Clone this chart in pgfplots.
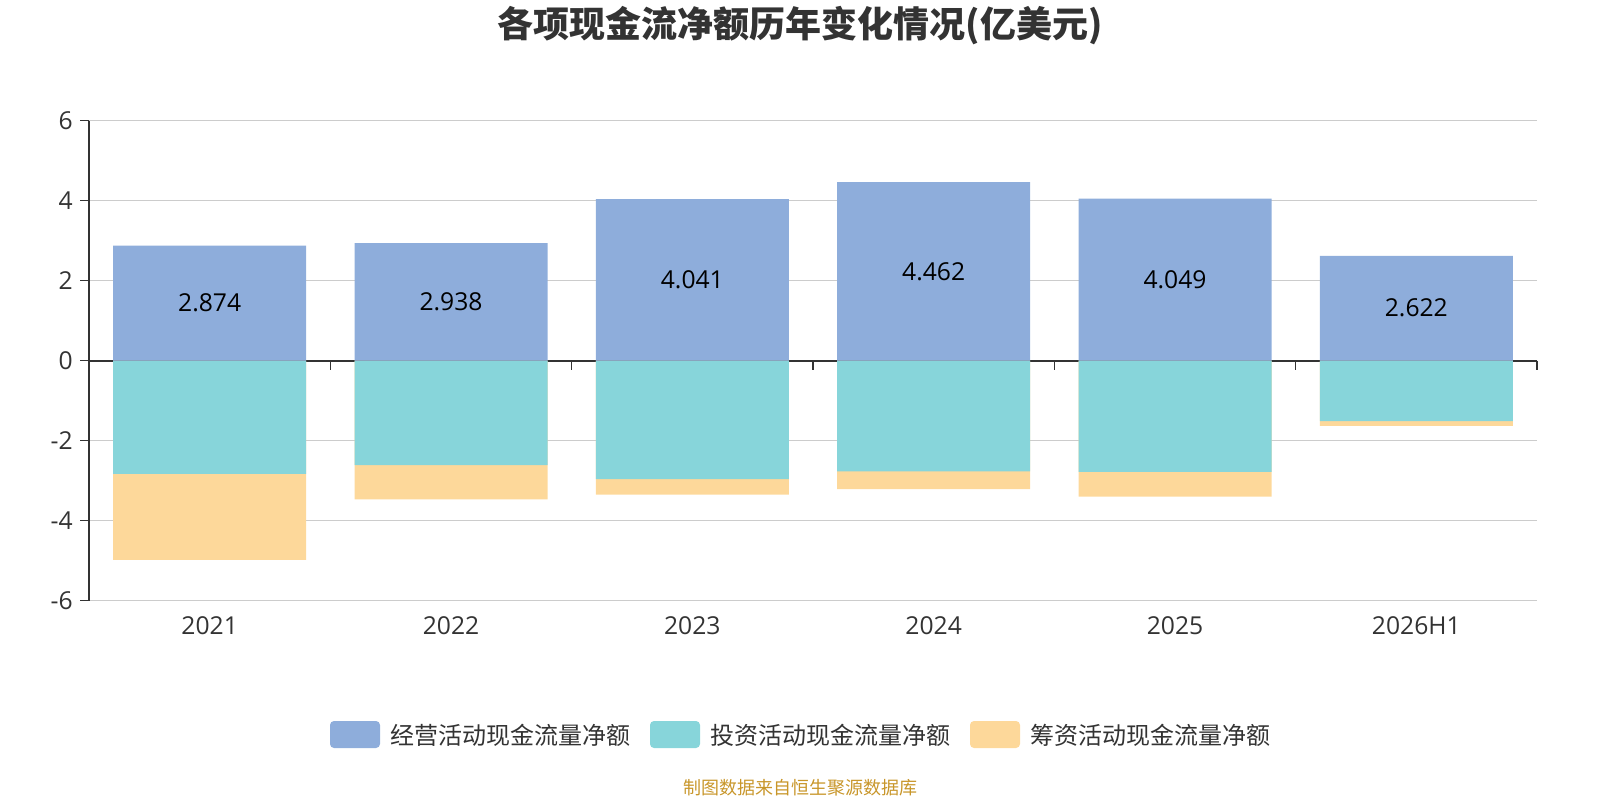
\documentclass[border=0pt]{standalone}
\usepackage{pgfplots}
\pgfplotsset{compat=1.18}
\usepackage{pgfplotstable}
\usepackage{fontspec}
\setmainfont{Open Sans}
\newfontfamily\cjk{Noto Sans CJK SC}
\definecolor{cop}{HTML}{8EADDB}
\definecolor{cinv}{HTML}{87D5DA}
\definecolor{cfin}{HTML}{FDD89A}
\definecolor{ctxt}{HTML}{333333}
\definecolor{cgrid}{HTML}{CCCCCC}
\definecolor{cfoot}{HTML}{C8962A}
\def\px{0.75pt}

\pgfplotstableread{
x op inv fin
0 2.874 -2.83 -2.15
1 2.938 -2.61 -0.86
2 4.041 -2.96 -0.39
3 4.462 -2.77 -0.44
4 4.049 -2.78 -0.62
5 2.622 -1.51 -0.12
}\cf

\begin{document}
\begin{tikzpicture}
\useasboundingbox (0,0) rectangle (1600*\px,-800*\px);
\node[font=\cjk\bfseries\fontsize{27pt}{30pt}\selectfont, text=ctxt, inner sep=0] at (800*\px,-26*\px) {各项现金流净额历年变化情况(亿美元)};
\begin{axis}[
  at={(66.75pt,-450.5pt)}, anchor=south west,
  scale only axis, width=1086pt, height=360pt,
  xmin=-0.5, xmax=5.5, ymin=-6, ymax=6,
  xtick={0,...,5}, xticklabels={2021,2022,2023,2024,2025,2026H1},
  ytick={-6,-4,-2,0,2,4,6},
  axis x line*=bottom, axis y line*=left,
  x axis line style={cgrid, line width=1.125pt},
  y axis line style={ctxt, line width=1.125pt},
  xtick style={draw=none},
  ytick style={ctxt, line width=1.125pt},
  tick align=outside, major tick length=6.75pt,
  ymajorgrids, grid style={cgrid, line width=1.125pt},
  tick label style={font=\fontsize{18.5pt}{20pt}\selectfont, text=ctxt},
  xticklabel style={yshift=-2pt},
  yticklabel style={xshift=-2pt},
  /pgf/number format/assume math mode=true,
  clip=false,
]
\draw[ctxt, line width=1.3pt] (axis cs:-0.5,0) -- (axis cs:5.5,0);
\pgfplotsinvokeforeach{0.5,1.5,2.5,3.5,4.5,5.5}{
  \draw[ctxt, line width=1.125pt] (axis cs:#1,0) -- ++(0pt,-6.75pt);
}
\addplot[ybar, bar width=144.75pt, bar shift=0pt, fill=cfin, draw=none]
  table[x=x, y expr=\thisrow{inv}+\thisrow{fin}] {\cf};
\addplot[ybar, bar width=144.75pt, bar shift=0pt, fill=cinv, draw=none]
  table[x=x, y=inv] {\cf};
\addplot[ybar, bar width=144.75pt, bar shift=0pt, fill=cop, draw=none]
  table[x=x, y=op] {\cf};
\addplot[only marks, mark=none, draw=none, nodes near coords, point meta=explicit symbolic,
  nodes near coords style={anchor=center, font=\fontsize{18.5pt}{20pt}\selectfont, text=black}]
  table[x=x, y expr=\thisrow{op}/2, meta=op] {\cf};
\end{axis}
% legend
\fill[cop, rounded corners=3pt] (330*\px,-721*\px) rectangle (380*\px,-748*\px);
\node[anchor=west, font=\cjk\fontsize{18pt}{20pt}\selectfont, text=ctxt, inner sep=0] at (390*\px,-735*\px) {经营活动现金流量净额};
\fill[cinv, rounded corners=3pt] (650*\px,-721*\px) rectangle (700*\px,-748*\px);
\node[anchor=west, font=\cjk\fontsize{18pt}{20pt}\selectfont, text=ctxt, inner sep=0] at (710*\px,-735*\px) {投资活动现金流量净额};
\fill[cfin, rounded corners=3pt] (970*\px,-721*\px) rectangle (1020*\px,-748*\px);
\node[anchor=west, font=\cjk\fontsize{18pt}{20pt}\selectfont, text=ctxt, inner sep=0] at (1030*\px,-735*\px) {筹资活动现金流量净额};
\node[font=\cjk\fontsize{13.5pt}{15pt}\selectfont, text=cfoot, inner sep=0] at (800*\px,-788*\px) {制图数据来自恒生聚源数据库};
\end{tikzpicture}
\end{document}
